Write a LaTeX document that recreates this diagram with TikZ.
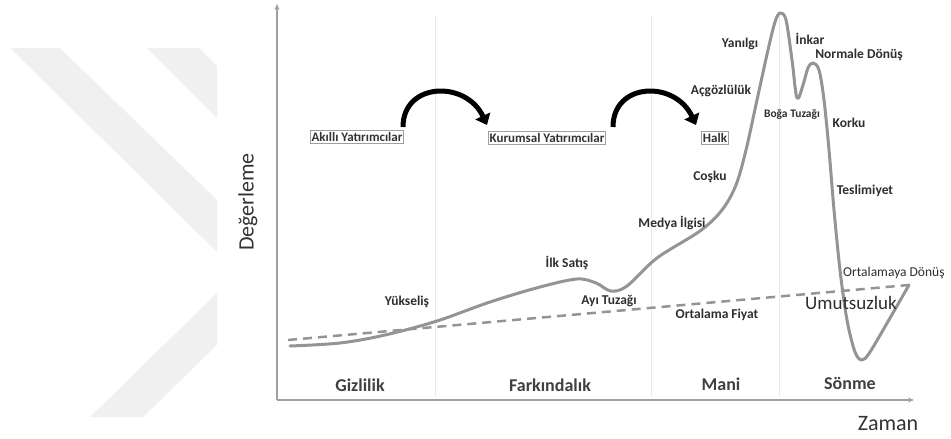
\documentclass[tikz,border=0pt]{standalone}
\usepackage{fontspec}
\setmainfont{Carlito}
\usetikzlibrary{arrows.meta}

\tikzset{
    lbl/.style={font=\bfseries\fontsize{13.5}{15}\selectfont, text=black!82, inner sep=0pt},
    phase/.style={font=\bfseries\fontsize{18}{20}\selectfont, text=black!75, inner sep=0pt},
    axislbl/.style={font=\fontsize{22}{24}\selectfont, text=black!80, inner sep=0pt},
    investor/.style={draw=gray!75, line width=0.9pt, font=\bfseries\fontsize{13}{14}\selectfont,
        text=black!80, inner sep=1.5pt},
    bigarrow/.style={line width=5pt, -{Triangle[width=16pt,length=10pt]}},
    divider/.style={gray!18, line width=0.8pt},
    curve/.style={black!42, line width=3pt, line cap=round, line join=round},
}

\begin{document}
\begin{tikzpicture}[x=1pt, y=-1pt]
    \useasboundingbox (0,0) rectangle (951,439);
    % watermark
    \fill[gray!12] (10,48) -- (60,48) -- (217,200) -- (217,252) -- cycle;
    \fill[gray!12] (147,48) -- (199,48) -- (217,66) -- (217,118) -- cycle;
    \fill[gray!12] (90,417) -- (143,417) -- (217,345) -- (217,293) -- cycle;

    % phase dividers
    \draw[divider] (435,15) -- (435,396);
    \draw[divider] (651,15) -- (651,396);
    \draw[divider] (779,15) -- (779,396);

    % axes
    \coordinate (o) at (277,400);
    \coordinate (ytop) at (277,4);
    \coordinate (xend) at (914,400);
    \draw[gray!75, line width=1.6pt, -{Stealth[length=6pt,width=5pt]}] (o) -- (ytop);
    \draw[gray!75, line width=1.6pt, -{Stealth[length=6pt,width=5pt]}] (o) -- (xend);
    \node[axislbl, rotate=90] (degerleme) at (248,202) {Değerleme};
    \node[axislbl] (zaman) at (888,424) {Zaman};

    % average price
    \coordinate (avgstart) at (288,340);
    \coordinate (avgend) at (909,285);
    \draw[curve, line width=2.5pt, line cap=butt, dash pattern=on 9pt off 6pt] (avgstart) -- (avgend);

    % the cycle
    \draw[curve] plot[smooth, tension=0.55] coordinates {
        (290,346) (340,343) (385,335) (437,321) (490,302) (540,287) (577,279)
        (596,283) (611,291) (627,286) (657,258) (700,231) (722,210) (736,185)
        (746,150) (757,100) (768,50) (775,22) (780,13) (786,20) (792,60)
        (797,98) (803,85) (808,68) (813,63) (819,70) (824,100) (829,150)
        (834,210) (840,270) (847,320) (855,352) (862,360) (870,352) (890,318)
        (909,285)};

    % phases
    \node[phase] (gizlilik) at (360,385) {Gizlilik};
    \node[phase] (farkindalik) at (550,385) {Farkındalık};
    \node[phase] (mani) at (721,384) {Mani};
    \node[phase] (sonme) at (850,383) {Sönme};

    % stages along the curve
    \node[lbl] (yukselis) at (407,302) {Yükseliş};
    \node[lbl] (ilksatis) at (567,263) {İlk Satış};
    \node[lbl] (ayituzagi) at (609,301) {Ayı Tuzağı};
    \node[lbl] (ortfiyat) at (717,315) {Ortalama Fiyat};
    \node[lbl] (medya) at (672,223) {Medya İlgisi};
    \node[lbl] (cosku) at (710,177) {Coşku};
    \node[lbl] (acgozluluk) at (721,91) {Açgözlülük};
    \node[lbl] (yanilgi) at (740,44) {Yanılgı};
    \node[lbl] (inkar) at (810,39) {İnkar};
    \node[lbl] (normale) at (859,55) {Normale Dönüş};
    \node[lbl, font=\bfseries\fontsize{11.5}{13}\selectfont] (bogatuzagi) at (792,115) {Boğa Tuzağı};
    \node[lbl] (korku) at (849,123) {Korku};
    \node[lbl] (teslimiyet) at (865,191) {Teslimiyet};
    \node[lbl, font=\fontsize{13.5}{15}\selectfont, anchor=west] (ortdonus) at (843,273) {Ortalamaya Dönüş};
    \node[lbl, font=\fontsize{19}{21}\selectfont] (umutsuzluk) at (851,303) {Umutsuzluk};

    % who is buying
    \node[investor] (akilli) at (357,137) {Akıllı Yatırımcılar};
    \node[investor] (kurumsal) at (547,138) {Kurumsal Yatırımcılar};
    \node[investor] (halk) at (715,138) {Halk};
    \coordinate (a1) at (403,127);
    \coordinate (a1tip) at (487,125);
    \coordinate (a2) at (613,127);
    \coordinate (a2tip) at (696,125);
    \draw[bigarrow] (a1) .. controls (403,82) and (466,80) .. (a1tip);
    \draw[bigarrow] (a2) .. controls (613,82) and (675,80) .. (a2tip);
\end{tikzpicture}
\end{document}
